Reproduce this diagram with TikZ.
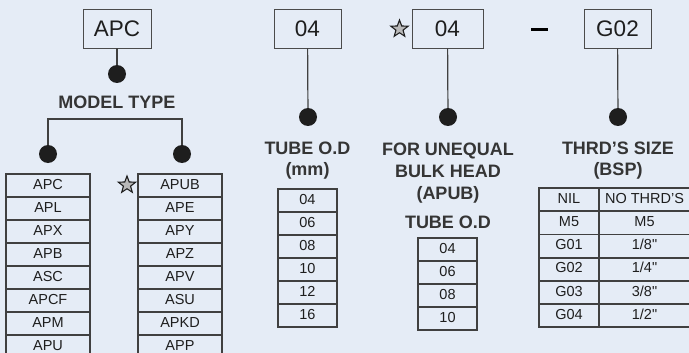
\documentclass[tikz,border=0pt]{standalone}
\usepackage{fontspec}
\setmainfont{Liberation Sans}
\usetikzlibrary{shapes.geometric}

\definecolor{bgblue}{HTML}{E5ECF6}
\definecolor{ink}{HTML}{1E1E1E}

\tikzset{
	codebox/.style={draw=ink!80,line width=1pt,minimum width=67pt,minimum height=38.5pt,inner sep=0pt,outer sep=0pt,font=\fontsize{22.5}{27}\selectfont,text=ink},
	dot/.style={circle,fill=ink,minimum size=18pt,inner sep=0pt},
	wire/.style={draw=ink!85,line width=1.2pt},
	heading/.style={font=\fontsize{18}{21}\bfseries\selectfont,text=ink!90,align=center,inner sep=0pt},
	cell/.style={draw=ink!85,line width=1.5pt,minimum height=23pt,inner sep=0pt,outer sep=0pt,text height=0.72em,text depth=0pt,font=\fontsize{14.5}{17}\selectfont,text=ink},
	mark5/.style={star,star points=5,star point ratio=2.4,draw=ink,fill=gray!55,line width=1.1pt,minimum size=18pt,inner sep=0pt}
}

\begin{document}
\begin{tikzpicture}[x=1pt,y=-1pt]
	\fill[bgblue] (0,0) rectangle (689,353);
	\useasboundingbox (0,0) rectangle (689,353);
	% code boxes
	\node[codebox,minimum width=68pt] (apc) at (117,29) {APC};
	\node[codebox] (od1) at (307.5,29) {04};
	\node[codebox,minimum width=71pt] (od2) at (447.5,29) {04};
	\node[codebox] (thrd) at (617.5,29) {G02};
	\node[mark5] (s1) at (399.5,29) {};
	\node[inner sep=0pt] (dash) at (539.5,30) {\rule{17pt}{3pt}};
	% dots
	\node[dot] (dapc) at (117,74) {};
	\node[dot] (dod1) at (308,117) {};
	\node[dot] (dod2) at (448,117) {};
	\node[dot] (dthrd) at (618,117) {};
	\node[dot] (dl) at (48,154) {};
	\node[dot] (dr) at (182,154) {};
	\coordinate (bl) at (48,119);
	\coordinate (br) at (182,119);
	\draw[wire] (apc)--(dapc);
	\draw[wire] (od1)--(dod1);
	\draw[wire] (od2)--(dod2);
	\draw[wire] (thrd)--(dthrd);
	\draw[wire] (dl)--(bl)--(br)--(dr);
	% headings
	\node[heading] (model) at (117,102) {MODEL TYPE};
	\node[heading] (tube) at (307.5,161) {TUBE O.D\\(mm)};
	\node[heading,font=\fontsize{18}{22}\bfseries\selectfont] (unequal) at (448,173) {FOR UNEQUAL\\BULK HEAD\\(APUB)};
	\node[heading] (tube2) at (448,222) {TUBE O.D};
	\node[heading] (size) at (618,161) {THRD’S SIZE\\(BSP)};
	% model tables
	\foreach \t [count=\i] in {APC,APL,APX,APB,ASC,APCF,APM,APU}
		\node[cell,minimum width=84pt] (l\i) at (48,162.5+23*\i) {\t};
	\foreach \t [count=\i] in {APUB,APE,APY,APZ,APV,ASU,APKD,APP}
		\node[cell,minimum width=84pt] (r\i) at (180,162.5+23*\i) {\t};
	\node[mark5] (s2) at (127,185) {};
	% tube tables
	\foreach \t [count=\i] in {04,06,08,10,12,16}
		\node[cell,minimum width=59pt] (t\i) at (307.5,177.5+23*\i) {\t};
	\foreach \t [count=\i] in {04,06,08,10}
		\node[cell,minimum width=59pt] (u\i) at (447.5,226.5+23*\i) {\t};
	% thread table
	\foreach \a/\b [count=\i] in {NIL/{NO THRD’S},M5/M5,G01/{1/8\textquotedbl},G02/{1/4\textquotedbl},G03/{3/8\textquotedbl},G04/{1/2\textquotedbl}}{
		\node[cell,minimum width=60pt] (g\i) at (569,176.5+23.2*\i) {\a};
		\node[cell,minimum width=91pt] (h\i) at (644.5,176.5+23.2*\i) {\b};
	}
\end{tikzpicture}
\end{document}
